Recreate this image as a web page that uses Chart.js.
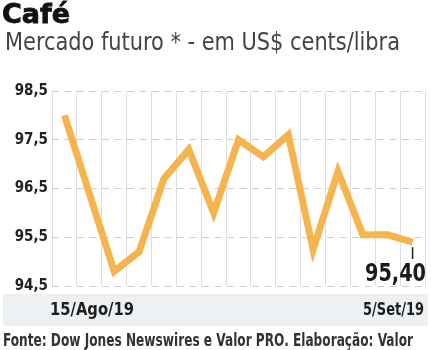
<!DOCTYPE html>
<html lang="pt-BR">
<head>
<meta charset="utf-8">
<title>Café - Mercado futuro</title>
<script src="https://cdn.jsdelivr.net/npm/chart.js@4.4.1/dist/chart.umd.min.js"></script>
<style>
  html, body { margin: 0; padding: 0; background: #fff; }
  canvas { display: block; }
</style>
</head>
<body>
<canvas id="grafico" width="431" height="350"></canvas>
<script>
// Pregões entre 15/ago e 5/set de 2019
const datas = ['15/Ago/19', '16/Ago/19', '19/Ago/19', '20/Ago/19', '21/Ago/19', '22/Ago/19', '23/Ago/19',
  '26/Ago/19', '27/Ago/19', '28/Ago/19', '29/Ago/19', '30/Ago/19', '3/Set/19', '4/Set/19', '5/Set/19'];
// Cotação em US$ cents/libra
const cotacoes = [98.0, 96.4, 94.8, 95.2, 96.7, 97.3, 96.0, 97.5, 97.15, 97.6, 95.25, 96.85, 95.55, 95.55, 95.4];
const ticksY = [94.5, 95.5, 96.5, 97.5, 98.5];

const titulo = 'Café';
const subtitulo = 'Mercado futuro * - em US$ cents/libra';
const fonte = 'Fonte: Dow Jones Newswires e Valor PRO. Elaboração: Valor';

const NARROW = '"DejaVu Sans Condensed", sans-serif';
const laranja = '#f6b44f';

const virgula = (v, casas) => v.toFixed(casas).replace('.', ',');

// escreve o texto esticando/comprimindo na horizontal até a largura pedida
function textoAjustado(ctx, texto, x, y, largura, alinhamento) {
  const w = ctx.measureText(texto).width;
  const k = largura / w;
  const x0 = alinhamento === 'right' ? x - largura : x;
  ctx.save();
  ctx.textAlign = 'left';
  ctx.translate(x0, y);
  ctx.scale(k, 1);
  ctx.fillText(texto, 0, 0);
  ctx.restore();
}

// Textos, faixa das datas e destaque do último valor
const moldura = {
  id: 'moldura',
  beforeDraw(chart) {
    const ctx = chart.ctx;
    ctx.save();
    ctx.fillStyle = '#fff';
    ctx.fillRect(0, 0, chart.width, chart.height);
    ctx.fillStyle = '#edf1f4';
    ctx.fillRect(3, 294, 425, 32);
    ctx.restore();
  },
  afterDraw(chart) {
    const ctx = chart.ctx;
    const area = chart.chartArea;
    ctx.save();
    ctx.textBaseline = 'alphabetic';

    ctx.fillStyle = '#111';
    ctx.strokeStyle = '#111';
    ctx.lineWidth = 0.8;
    ctx.font = 'bold 27px "DejaVu Sans", sans-serif';
    ctx.textAlign = 'left';
    ctx.fillText(titulo, 2, 23);
    ctx.strokeText(titulo, 2, 23);

    ctx.fillStyle = '#444';
    ctx.font = '24px ' + NARROW;
    textoAjustado(ctx, subtitulo, 5, 50, 395, 'left');

    // datas do primeiro e do último pregão
    ctx.fillStyle = '#1e1e1e';
    ctx.font = 'bold 18px ' + NARROW;
    textoAjustado(ctx, datas[0], 50, 315, 84, 'left');
    textoAjustado(ctx, datas[datas.length - 1], area.right - 1, 315, 61, 'right');

    ctx.fillStyle = '#333';
    ctx.font = 'bold 17px ' + NARROW;
    textoAjustado(ctx, fonte, 3, 346, 410, 'left');

    // último valor
    const meta = chart.getDatasetMeta(0);
    const ultimo = meta.data[meta.data.length - 1];
    ctx.strokeStyle = '#222';
    ctx.lineWidth = 1.5;
    ctx.beginPath();
    ctx.moveTo(ultimo.x, ultimo.y + 5);
    ctx.lineTo(ultimo.x, 259);
    ctx.stroke();
    ctx.fillStyle = '#1a1a1a';
    ctx.font = 'bold 25px ' + NARROW;
    textoAjustado(ctx, virgula(cotacoes[cotacoes.length - 1], 2), area.right + 1, 281, 61, 'right');
    ctx.restore();
  }
};

new Chart(document.getElementById('grafico'), {
  type: 'line',
  data: {
    labels: datas,
    datasets: [{
      data: cotacoes,
      borderColor: laranja,
      borderWidth: 7,
      pointRadius: 0,
      tension: 0,
      fill: false
    }]
  },
  options: {
    responsive: false,
    animation: false,
    events: [],
    layout: { padding: { top: 91, bottom: 64, left: 0, right: 6 } },
    scales: {
      x: {
        offset: true,
        grid: { offset: true, color: '#dedede', lineWidth: 1, drawTicks: false },
        border: { display: false },
        ticks: { display: false }
      },
      y: {
        min: 94.5,
        max: 98.5,
        afterBuildTicks(scale) {
          scale.ticks = ticksY.map(v => ({ value: v }));
        },
        afterFit(scale) {
          scale.width = 52;
        },
        grid: { color: '#cfcfcf', lineWidth: 1, drawTicks: false },
        border: { display: false, dash: [7, 5.5] },
        ticks: {
          padding: 4,
          color: '#222',
          font: { family: NARROW, size: 15, weight: 'bold' },
          callback: v => virgula(v, 1)
        }
      }
    },
    plugins: {
      legend: { display: false },
      tooltip: { enabled: false }
    }
  },
  plugins: [moldura]
});
</script>
</body>
</html>
